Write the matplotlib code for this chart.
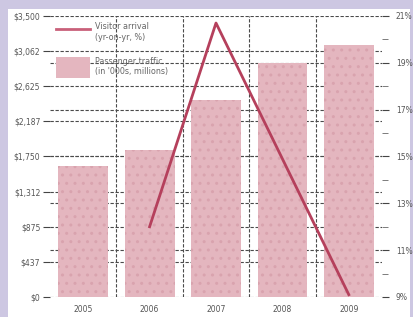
import matplotlib
matplotlib.use("Agg")
import matplotlib.pyplot as plt
from matplotlib.patches import Rectangle
from matplotlib.lines import Line2D
from matplotlib.ticker import FixedLocator

years = ["2005", "2006", "2007", "2008", "2009"]
traffic = [1630, 1830, 2455, 2915, 3140]
growth_years = ["2006", "2007", "2008", "2009"]
growth = [12.0, 20.7, 14.9, 9.1]
left_ticks = [0, 437.5, 875, 1312.5, 1750, 2187.5, 2625, 3062.5, 3500]
left_labels = ["$0", "$437", "$875", "$1,312", "$1,750", "$2,187", "$2,625", "$3,062", "$3,500"]
right_ticks = [9, 11, 13, 15, 17, 19, 21]
right_labels = ["9%", "11%", "13%", "15%", "17%", "19%", "21%"]
legend_labels = ["Visitor arrival\n(yr-on-yr, %)", "Passenger traffic\n(in '000s, millions)"]

W, H = 414, 317
fig = plt.figure(figsize=(W / 100, H / 100), dpi=100)
fig.patch.set_facecolor("#cdc7e2")
fig.patches.append(Rectangle((8 / W, 0), (410 - 8) / W, (H - 9) / H,
                             transform=fig.transFigure, facecolor="white",
                             edgecolor="none", zorder=0))

ax = fig.add_axes([50 / W, 1 - 297 / H, (382 - 50) / W, (297 - 16) / H])
ax.set_facecolor("none")
bar_col = "#e4b6bf"
x = list(range(len(years)))
ax.bar(x, traffic, width=0.75, color=bar_col, edgecolor="#d9a3ae",
       linewidth=0, hatch="..", zorder=3)
ax.set_xlim(-0.5, 4.5)
ax.set_ylim(0, 3500)
ax.set_yticks(left_ticks)
ax.set_yticklabels(left_labels)
ax.set_xticks(x)
ax.set_xticklabels(years)
ax.xaxis.set_minor_locator(FixedLocator([0.5, 1.5, 2.5, 3.5]))
ax.tick_params(axis="x", which="both", length=0, labelsize=5.5, labelcolor="#555555", pad=6)
ax.tick_params(axis="y", length=5, width=0.8, color="#444444", labelsize=5.5,
               labelcolor="#555555", pad=2)
for s in ax.spines.values():
    s.set_visible(False)
grid_style = dict(linestyle=(0, (3, 1.5)), color="#4a4a4a", linewidth=0.8, zorder=1)
ax.grid(axis="y", **grid_style)
ax.grid(axis="x", which="minor", **grid_style)
ax.set_axisbelow(True)

ax2 = ax.twinx()
ax2.set_ylim(9, 21)
ax2.set_yticks(right_ticks)
ax2.set_yticklabels(right_labels)
ax2.yaxis.set_minor_locator(FixedLocator([10, 12, 14, 16, 18, 20]))
ax2.tick_params(axis="y", which="major", length=5, width=0.8, color="#444444",
                labelsize=5.5, labelcolor="#555555", pad=5)
ax2.tick_params(axis="y", which="minor", length=4, width=0.6, color="#666666")
for s in ax2.spines.values():
    s.set_visible(False)
# right-axis gridlines drawn behind the bars, mapped through ax2's scale
lo2, hi2 = ax2.get_ylim()
lo1, hi1 = ax.get_ylim()
for v in right_ticks[1:-1]:
    ax.axhline(lo1 + (v - lo2) / (hi2 - lo2) * (hi1 - lo1), **grid_style)
gx = [years.index(y) for y in growth_years]
ax2.plot(gx, growth, color="#b5405c", linewidth=2, zorder=5)
ax.set_zorder(2)
ax2.set_zorder(3)
ax2.patch.set_visible(False)

handles = [Line2D([], [], color="#c9607a", linewidth=2),
           Rectangle((0, 0), 1, 1, facecolor=bar_col, edgecolor="none")]
leg = ax2.legend(handles, legend_labels, loc="upper left", bbox_to_anchor=(0.0, 1.0),
                 frameon=False, fontsize=5.8, labelcolor="#666666", handlelength=4.2,
                 handleheight=3.6, labelspacing=1.6, borderpad=0.3, handletextpad=0.6)

fig.savefig("out.png", dpi=100, facecolor=fig.get_facecolor())
